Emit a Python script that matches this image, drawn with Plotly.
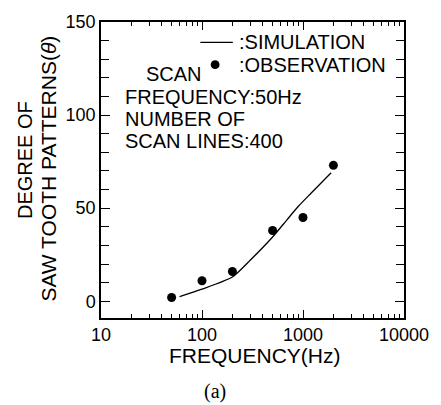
import plotly.graph_objects as go

# Simulation curve
sim_freq = [60, 100, 200, 300, 500, 700, 900, 1200, 1900]
sim_deg = [2.5, 6.5, 13, 22, 34.5, 44, 51, 58, 69]

# Observations
obs_freq = [50, 100, 200, 500, 1000, 2000]
obs_deg = [2, 11, 16, 38, 45, 73]

x_major = [10, 100, 1000, 10000]
x_major_text = ["10", "100", "1000", "10000"]
x_minor = [m * d for d in (10, 100, 1000) for m in range(2, 10)]
y_major = [0, 50, 100, 150]
y_minor = list(range(0, 151, 10))

FONT = "Liberation Sans, Arial, sans-serif"

fig = go.Figure()
fig.add_trace(go.Scatter(x=sim_freq, y=sim_deg, mode="lines",
                         line=dict(color="black", width=1.3, shape="spline", smoothing=0.6),
                         name=":SIMULATION", showlegend=False))
fig.add_trace(go.Scatter(x=obs_freq, y=obs_deg, mode="markers",
                         marker=dict(color="black", size=9),
                         name=":OBSERVATION", showlegend=False))

fig.update_xaxes(type="log", range=[1, 4],
                 tickmode="array", tickvals=x_major, ticktext=x_major_text,
                 ticks="inside", ticklen=8, tickwidth=1.2, tickcolor="black",
                 minor=dict(tickmode="array", tickvals=x_minor, ticks="inside",
                            ticklen=4, tickwidth=1, tickcolor="black"),
                 showline=True, linecolor="black", linewidth=1.5, mirror="allticks",
                 showgrid=False, zeroline=False,
                 tickfont=dict(family=FONT, size=18, color="black"))
fig.update_yaxes(range=[-9, 150],
                 tickmode="array", tickvals=y_major,
                 ticks="inside", ticklen=9, tickwidth=1.2, tickcolor="black",
                 minor=dict(tickmode="array", tickvals=y_minor, ticks="inside",
                            ticklen=8, tickwidth=1, tickcolor="black"),
                 showline=True, linecolor="black", linewidth=1.5, mirror="allticks",
                 showgrid=False, zeroline=False,
                 tickfont=dict(family=FONT, size=18, color="black"))

def pa(px):
    return (px - 101) / 308.0

def pb(py):
    return (318 - py) / 305.0

ann = []
txt = dict(family=FONT, size=20, color="black")
ann.append(dict(text=":SIMULATION", x=pa(239), y=pb(34), xanchor="left", yanchor="middle", font=txt))
ann.append(dict(text=":OBSERVATION", x=pa(239), y=pb(57), xanchor="left", yanchor="middle", font=txt))
ann.append(dict(text="SCAN", x=pa(145), y=pb(67), xanchor="left", yanchor="middle", font=txt))
ann.append(dict(text="FREQUENCY:50Hz", x=pa(123), y=pb(90), xanchor="left", yanchor="middle", font=txt))
ann.append(dict(text="NUMBER OF", x=pa(123), y=pb(113), xanchor="left", yanchor="middle", font=txt))
ann.append(dict(text="SCAN LINES:400", x=pa(123), y=pb(136), xanchor="left", yanchor="middle", font=txt))
ann.append(dict(text="FREQUENCY(Hz)", x=pa(258), y=pb(357), xanchor="center", yanchor="middle",
                font=dict(family=FONT, size=21, color="black")))
ann.append(dict(text="(a)", x=pa(217), y=pb(394), xanchor="center", yanchor="middle",
                font=dict(family="Liberation Serif, Times New Roman, serif", size=20, color="black")))
ann.append(dict(text="DEGREE OF", x=pa(24), y=pb(155), xanchor="center", yanchor="middle",
                textangle=-90, font=dict(family=FONT, size=20, color="black")))
ann.append(dict(text="SAW TOOTH PATTERNS(<i>θ</i>)", x=pa(48), y=pb(164), xanchor="center", yanchor="middle",
                textangle=-90, font=dict(family=FONT, size=21, color="black")))
for a in ann:
    a.update(xref="paper", yref="paper", showarrow=False)

shapes = [
    dict(type="line", xref="paper", yref="paper", x0=pa(202), x1=pa(235), y0=pb(34), y1=pb(34),
         line=dict(color="black", width=1.3)),
    dict(type="circle", xref="paper", yref="paper", x0=pa(212.5), x1=pa(221.5), y0=pb(52.5), y1=pb(61.5),
         fillcolor="black", line=dict(color="black", width=0)),
]

fig.update_layout(
    width=441, height=405,
    margin=dict(l=101, r=32, t=13, b=87),
    paper_bgcolor="white", plot_bgcolor="white",
    showlegend=False,
    annotations=ann,
    shapes=shapes,
)

fig.write_html("out.html", config={"displayModeBar": False},
               post_script="document.body.style.margin='0';document.body.style.overflow='hidden';")
